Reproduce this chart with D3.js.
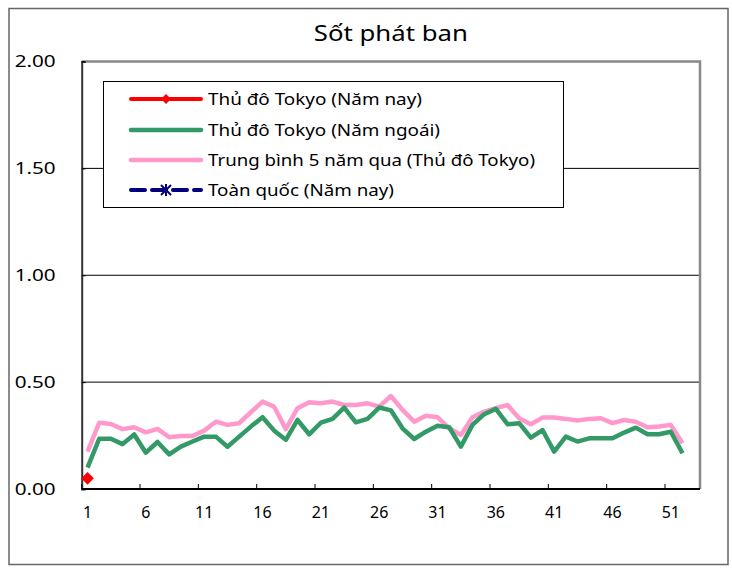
<!DOCTYPE html>
<html><head><meta charset="utf-8">
<script src="https://cdn.jsdelivr.net/npm/d3@7"></script>
<style>body{margin:0;background:#fff}svg{display:block}text{font-family:"Noto Sans",sans-serif;fill:#000}</style>
</head><body><svg id="c" width="732" height="569"></svg>
<script>
const title = "Sốt phát ban";
const weeks = d3.range(1, 54); // 53 weekly category slots
const xTickLabels = [1, 6, 11, 16, 21, 26, 31, 36, 41, 46, 51];
const yTicks = [0, 0.5, 1, 1.5, 2];
const seriesNames = ["Thủ đô Tokyo (Năm nay)", "Thủ đô Tokyo (Năm ngoái)", "Trung bình 5 năm qua (Thủ đô Tokyo)", "Toàn quốc (Năm nay)"];
const tokyoThisYear = [0.05];
const tokyoLastYear = [0.10,0.235,0.235,0.21,0.255,0.17,0.22,0.162,0.198,0.222,0.245,0.245,0.198,0.245,0.292,0.336,0.273,0.23,0.323,0.256,0.31,0.328,0.381,0.312,0.328,0.381,0.368,0.284,0.234,0.268,0.296,0.289,0.198,0.30,0.35,0.375,0.303,0.308,0.24,0.276,0.175,0.245,0.222,0.237,0.237,0.237,0.264,0.287,0.256,0.256,0.268,0.167];
const avg5Years = [0.175,0.31,0.304,0.28,0.289,0.265,0.281,0.242,0.248,0.248,0.273,0.315,0.30,0.308,0.359,0.409,0.385,0.28,0.378,0.406,0.401,0.409,0.393,0.393,0.401,0.385,0.435,0.37,0.315,0.343,0.336,0.284,0.253,0.336,0.362,0.378,0.393,0.331,0.303,0.334,0.334,0.328,0.32,0.328,0.331,0.308,0.323,0.315,0.289,0.292,0.30,0.214];
const nationalThisYear = [];

const svg = d3.select("#c");
const L = 81.7, R = 700, T = 61.5, B = 489;
const x = d3.scaleBand().domain(weeks).range([L, R]).padding(0);
const xc = w => x(w) + x.bandwidth() / 2;
const y = d3.scaleLinear().domain([0, 2]).range([B, T]);

// outer frame
svg.append("rect").attr("x", 9).attr("y", 8.5).attr("width", 719).attr("height", 556)
  .attr("fill", "none").attr("stroke", "#666").attr("stroke-width", 1.5);

// title
svg.append("text").attr("x", (L + R) / 2).attr("y", 41).attr("text-anchor", "middle")
  .attr("font-size", 22).attr("textLength", 154).attr("lengthAdjust", "spacingAndGlyphs").text(title);

// gridlines
svg.append("g").selectAll("line").data(yTicks.filter(d => d > 0 && d < 2)).join("line")
  .attr("x1", L).attr("x2", R).attr("y1", d => y(d)).attr("y2", d => y(d))
  .attr("stroke", "#000").attr("stroke-width", 1);

// plot border
svg.append("path").attr("d", `M${L},${T}H${R}V${B}`).attr("fill", "none")
  .attr("stroke", "#888").attr("stroke-width", 2.5);

// y axis
const yAxis = d3.axisLeft(y).tickValues(yTicks).tickFormat(d3.format(".2f")).tickSize(-4).tickPadding(26);
const gy = svg.append("g").attr("transform", `translate(${L},0)`).call(yAxis);
gy.select(".domain").attr("stroke", "#333").attr("stroke-width", 2);
gy.selectAll("text").attr("font-size", 17).attr("font-family", '"Noto Sans",sans-serif').attr("fill", "#000")
  .attr("textLength", 41).attr("lengthAdjust", "spacingAndGlyphs");

// x axis
const gx = svg.append("g").attr("transform", `translate(0,${B})`);
gx.append("line").attr("x1", L).attr("x2", R).attr("stroke", "#000").attr("stroke-width", 2);
gx.selectAll("line.tk").data(xTickLabels).join("line").attr("class", "tk")
  .attr("x1", d => x(d)).attr("x2", d => x(d)).attr("y1", 0).attr("y2", -5)
  .attr("stroke", "#000").attr("stroke-width", 1);
gx.selectAll("text").data(xTickLabels).join("text")
  .attr("x", d => xc(d)).attr("y", 29).attr("text-anchor", "middle").attr("font-size", 16).text(d => d);

// lines
const line = d3.line().x((d, i) => xc(weeks[i])).y(d => y(d));
svg.append("path").datum(avg5Years).attr("d", line).attr("fill", "none")
  .attr("stroke", "#FF99CC").attr("stroke-width", 4.5).attr("stroke-linejoin", "round");
svg.append("path").datum(tokyoLastYear).attr("d", line).attr("fill", "none")
  .attr("stroke", "#339966").attr("stroke-width", 4.5).attr("stroke-linejoin", "round");
svg.append("path").datum(nationalThisYear).attr("d", line).attr("fill", "none")
  .attr("stroke", "#000080").attr("stroke-width", 4).attr("stroke-dasharray", "14,6");
svg.append("path").datum(tokyoThisYear).attr("d", line).attr("fill", "none")
  .attr("stroke", "#FF0000").attr("stroke-width", 4);
svg.selectAll("path.rm").data(tokyoThisYear).join("path").attr("class", "rm")
  .attr("transform", (d, i) => `translate(${xc(weeks[i])},${y(d)}) rotate(45)`)
  .attr("d", d3.symbol().type(d3.symbolSquare).size(80)).attr("fill", "#FF0000");

// legend
const lg = svg.append("g");
lg.append("rect").attr("x", 103.5).attr("y", 81.5).attr("width", 460).attr("height", 126)
  .attr("fill", "#fff").attr("stroke", "#000").attr("stroke-width", 1);
const rowsY = [99, 130, 160, 190];
const textWidths = [214, 232, 327, 186];
const lx1 = 131, lx2 = 201, lm = 166;
// row 0 red
lg.append("line").attr("x1", lx1).attr("x2", lx2).attr("y1", rowsY[0]).attr("y2", rowsY[0])
  .attr("stroke", "#FF0000").attr("stroke-width", 4).attr("stroke-linecap", "round");
lg.append("path").attr("transform", `translate(${lm},${rowsY[0]}) rotate(45)`)
  .attr("d", d3.symbol().type(d3.symbolSquare).size(50)).attr("fill", "#FF0000");
// row 1 green
lg.append("line").attr("x1", lx1).attr("x2", lx2).attr("y1", rowsY[1]).attr("y2", rowsY[1])
  .attr("stroke", "#339966").attr("stroke-width", 4.5).attr("stroke-linecap", "round");
// row 2 pink
lg.append("line").attr("x1", lx1).attr("x2", lx2).attr("y1", rowsY[2]).attr("y2", rowsY[2])
  .attr("stroke", "#FF99CC").attr("stroke-width", 4.5).attr("stroke-linecap", "round");
// row 3 navy dashed with asterisk
lg.append("line").attr("x1", lx1).attr("x2", lx2).attr("y1", rowsY[3]).attr("y2", rowsY[3])
  .attr("stroke", "#000080").attr("stroke-width", 4).attr("stroke-linecap", "round")
  .attr("stroke-dasharray", "14,7");
const ast = lg.append("g").attr("transform", `translate(${lm},${rowsY[3]})`)
  .attr("stroke", "#000080").attr("stroke-width", 2);
[[-5,-5,5,5],[-5,5,5,-5],[0,-6,0,6]].forEach(s => ast.append("line")
  .attr("x1", s[0]).attr("y1", s[1]).attr("x2", s[2]).attr("y2", s[3]));
lg.selectAll("text.lt").data(seriesNames).join("text").attr("class", "lt")
  .attr("x", 208).attr("y", (d, i) => rowsY[i] + 6).attr("font-size", 16.5)
  .attr("textLength", (d, i) => textWidths[i]).attr("lengthAdjust", "spacingAndGlyphs").text(d => d);
</script></body></html>
